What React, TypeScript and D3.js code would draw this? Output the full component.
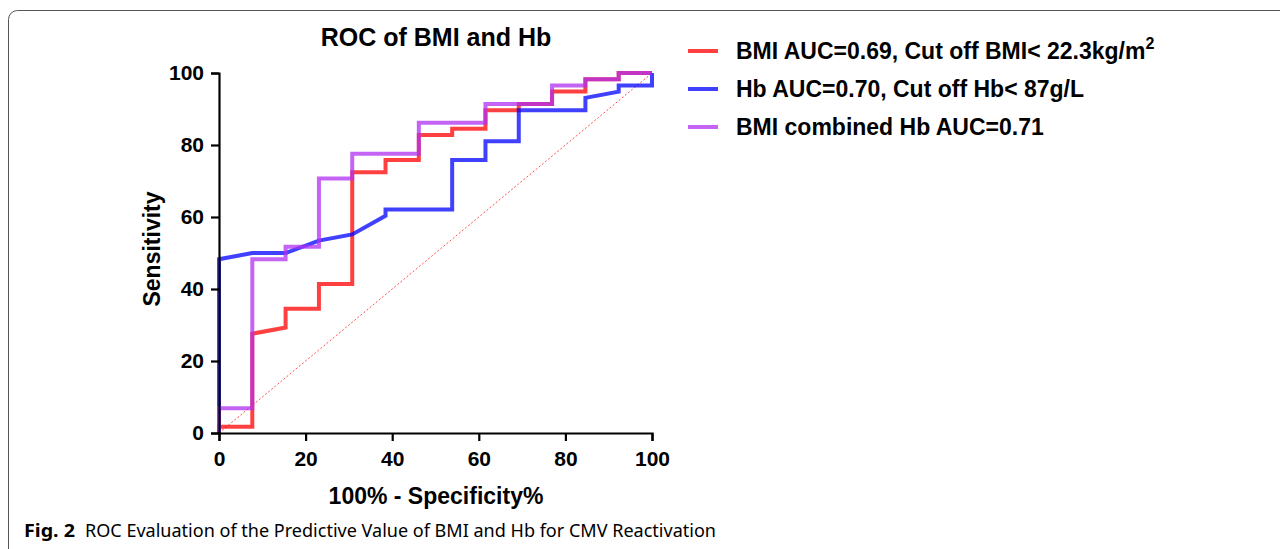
import React, { useEffect, useRef } from 'react';
import * as d3 from 'd3';

// 100% - specificity (x) and sensitivity (y)
const bmiX = [0, 0, 7.69, 7.69, 15.38, 15.38, 23.08, 23.08, 30.77, 30.77, 38.46, 38.46, 46.15, 46.15, 53.85, 53.85, 61.54, 61.54, 69.23, 69.23, 76.92, 76.92, 84.62, 84.62, 92.31, 92.31, 100];
const bmiY = [0, 1.72, 1.72, 27.59, 29.31, 34.48, 34.48, 41.38, 41.38, 72.41, 72.41, 75.86, 75.86, 82.76, 82.76, 84.48, 84.48, 89.66, 89.66, 91.38, 91.38, 94.83, 94.83, 98.28, 98.28, 100, 100];

const hbX = [0, 0, 7.69, 15.38, 23.08, 30.77, 38.46, 38.46, 53.85, 53.85, 61.54, 61.54, 69.23, 69.23, 84.62, 84.62, 92.31, 92.31, 100, 100];
const hbY = [0, 48.28, 50, 50, 53.45, 55.17, 60.34, 62.07, 62.07, 75.86, 75.86, 81.03, 81.03, 89.66, 89.66, 93.1, 94.83, 96.55, 96.55, 100];

const combX = [0, 0, 7.69, 7.69, 15.38, 15.38, 23.08, 23.08, 30.77, 30.77, 46.15, 46.15, 61.54, 61.54, 76.92, 76.92, 84.62, 84.62, 92.31, 92.31, 100];
const combY = [0, 6.9, 6.9, 48.28, 48.28, 51.72, 51.72, 70.69, 70.69, 77.59, 77.59, 86.21, 86.21, 91.38, 91.38, 96.55, 96.55, 98.28, 98.28, 100, 100];

const ticks = [0, 20, 40, 60, 80, 100];

const seriesNames = ['BMI', 'Hb', 'Combined'];
const seriesColors = ['#ff0000', '#0000ff', '#b030f0'];

const W = 1280, H = 549;
const x = d3.scaleLinear().domain([0, 100]).range([219, 652]);
const y = d3.scaleLinear().domain([0, 100]).range([433, 73]);

const toPts = (xs: number[], ys: number[]) => xs.map((v, i) => [v, ys[i]] as [number, number]);

export default function App() {
  const xAxisRef = useRef<SVGGElement>(null);
  const yAxisRef = useRef<SVGGElement>(null);

  useEffect(() => {
    const style = (g: any) => {
      g.select('.domain').attr('stroke', '#000').attr('stroke-width', 2.2);
      g.selectAll('.tick line').attr('stroke', '#000').attr('stroke-width', 2.2);
      g.selectAll('.tick text')
        .attr('fill', '#000')
        .style('font-family', '"Liberation Sans", Arial, sans-serif')
        .style('font-size', '21px')
        .style('font-weight', 'bold');
    };
    d3.select(xAxisRef.current!)
      .call(d3.axisBottom(x).tickValues(ticks).tickSize(8).tickSizeOuter(8).tickPadding(10) as any)
      .call(style);
    d3.select(yAxisRef.current!)
      .call(d3.axisLeft(y).tickValues(ticks).tickSize(8).tickSizeOuter(8).tickPadding(7) as any)
      .call(style);
  }, []);

  const line = d3.line<[number, number]>().x((d) => x(d[0])).y((d) => y(d[1]));
  const paths = [toPts(bmiX, bmiY), toPts(hbX, hbY), toPts(combX, combY)];

  const font = '"Liberation Sans", Arial, sans-serif';
  const legendText = [
    'BMI AUC=0.69, Cut off BMI< 22.3kg/m',
    'Hb AUC=0.70, Cut off Hb< 87g/L',
    'BMI combined Hb AUC=0.71',
  ];
  const legendY = [51, 89, 127];

  return (
    <svg width={W} height={H} style={{ position: 'absolute', left: 0, top: 0, background: '#fff' }}>
      <rect x={8.5} y={10.5} width={1300} height={548} rx={9} fill="none" stroke="#555" strokeWidth={1} />

      <text x={436} y={46} textAnchor="middle" fontFamily={font} fontWeight="bold" fontSize={25}>
        ROC of BMI and Hb
      </text>

      <line x1={x(0)} y1={y(0)} x2={x(100)} y2={y(100)} stroke="#ff5050" strokeWidth={1} strokeDasharray="2,2" />

      {paths.map((p, i) => (
        <path
          key={seriesNames[i]}
          d={line(p) || ''}
          fill="none"
          stroke={seriesColors[i]}
          strokeOpacity={0.75}
          strokeWidth={4}
          strokeLinejoin="miter"
        />
      ))}

      <g ref={xAxisRef} transform={`translate(0,${y(0)})`} />
      <g ref={yAxisRef} transform={`translate(${x(0)},0)`} />

      <text
        transform="translate(160,249) rotate(-90)"
        textAnchor="middle"
        fontFamily={font}
        fontWeight="bold"
        fontSize={23}
      >
        Sensitivity
      </text>
      <text x={436} y={504} textAnchor="middle" fontFamily={font} fontWeight="bold" fontSize={23}>
        100% - Specificity%
      </text>

      {legendText.map((t, i) => (
        <g key={t}>
          <line x1={688} x2={718} y1={legendY[i]} y2={legendY[i]} stroke={seriesColors[i]} strokeOpacity={0.75} strokeWidth={4} />
          <text x={736} y={legendY[i] + 8} fontFamily={font} fontWeight="bold" fontSize={23}>
            {t}
            {i === 0 && (
              <tspan dy={-10} fontSize={16}>
                2
              </tspan>
            )}
          </text>
        </g>
      ))}

      <text x={24} y={537} fontFamily='"Noto Sans", sans-serif' fontSize={18}>
        <tspan fontWeight="bold" textLength={51} lengthAdjust="spacingAndGlyphs">Fig. 2</tspan>
        <tspan x={85} textLength={631} lengthAdjust="spacingAndGlyphs">
          ROC Evaluation of the Predictive Value of BMI and Hb for CMV Reactivation
        </tspan>
      </text>
    </svg>
  );
}
